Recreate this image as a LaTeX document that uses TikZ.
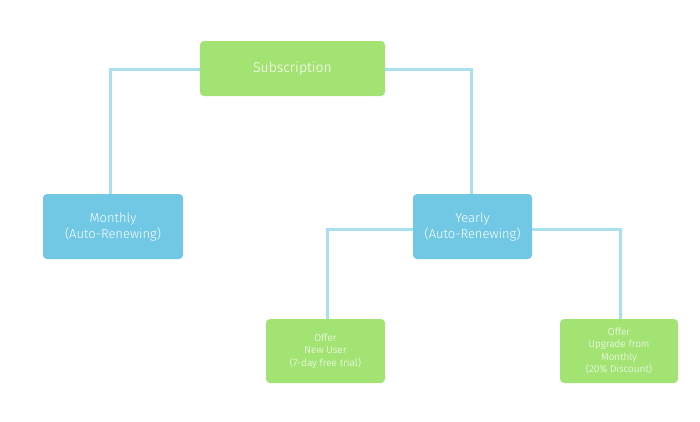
\documentclass[tikz,border=0pt]{standalone}
\usepackage{fontspec}
\setmainfont{Fira Sans Light}
\begin{document}
\definecolor{gr}{HTML}{A3E374}
\definecolor{bl}{HTML}{70C8E4}
\definecolor{ln}{HTML}{A9E0EE}
\begin{tikzpicture}[x=1pt,y=-1pt,
 box/.style={rounded corners=4pt,text=white,align=center,inner sep=0pt,draw=none},
 g/.style={box,fill=gr}, b/.style={box,fill=bl},
 con/.style={ln,line width=3pt}]
\useasboundingbox (0,0) rectangle (700,421);
\node[g,minimum width=185pt,minimum height=55pt,font=\fontsize{14}{16}\selectfont] (s) at (292.5,68.5) {Subscription};
\node[b,minimum width=140pt,minimum height=65pt,font=\fontsize{13}{16}\selectfont] (m) at (113,226.5) {Monthly\\(Auto-Renewing)};
\node[b,minimum width=119pt,minimum height=65pt,font=\fontsize{13}{16}\selectfont] (y) at (472.5,226.5) {Yearly\\(Auto-Renewing)};
\node[g,minimum width=119pt,minimum height=64pt,font=\fontsize{10}{12.5}\selectfont] (o1) at (325.5,351) {Offer\\New User\\(7-day free trial)};
\node[g,minimum width=118pt,minimum height=64pt,font=\fontsize{10}{12.5}\selectfont] (o2) at (619,351) {Offer\\Upgrade from\\Monthly\\(20\% Discount)};
\coordinate (c1) at (110,69); \coordinate (c2) at (471,69);
\coordinate (c3) at (327,229); \coordinate (c4) at (620,229);
\draw[con] (s.west |- c1) -- (c1) -- (c1 |- m.north);
\draw[con] (s.east |- c2) -- (c2) -- (c2 |- y.north);
\draw[con] (y.west |- c3) -- (c3) -- (c3 |- o1.north);
\draw[con] (y.east |- c4) -- (c4) -- (c4 |- o2.north);
\end{tikzpicture}
\end{document}
